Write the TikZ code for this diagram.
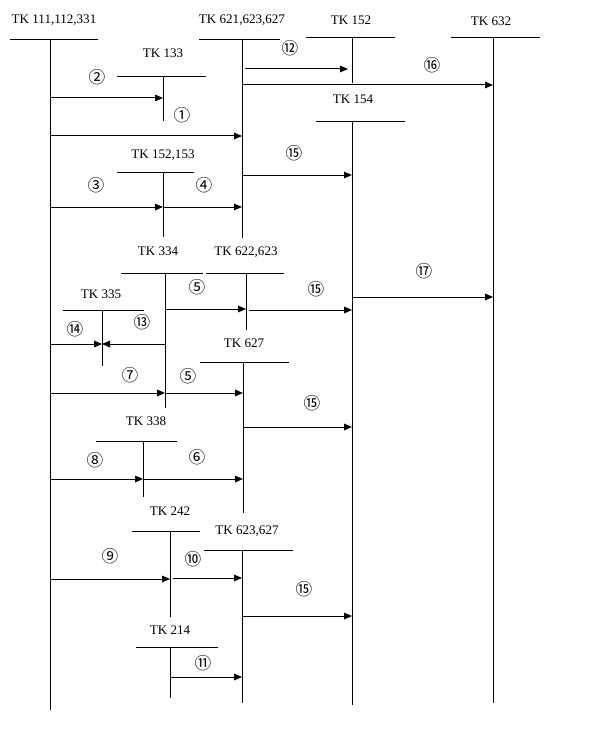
\documentclass[tikz,border=0pt]{standalone}
\usepackage{fontspec}
\setmainfont{Liberation Serif}
\newfontfamily\cjk{Noto Sans CJK SC}
\usetikzlibrary{arrows.meta}
\tikzset{
  acct/.style={font=\fontsize{9.8}{11}\selectfont, inner sep=0pt},
  num/.style={font=\cjk\fontsize{12.5}{13}\selectfont, inner sep=0pt},
  flow/.style={-{Triangle[length=6pt,width=5pt]}},
}
\begin{document}
\begin{tikzpicture}[x=0.75pt, y=-0.75pt, line width=0.75pt]
  \useasboundingbox (0,0) rectangle (591,738);

  % Accounts: title, bar, vertical line
  \node[acct] (t111) at (54,20) {TK 111,112,331};
  \draw (10,40) -- (98,40);
  \coordinate (k111) at (50,40);
  \draw (k111) -- (50,710);

  \node[acct] (t621) at (242,20) {TK 621,623,627};
  \draw (199,40) -- (280,40);
  \coordinate (k621) at (242,40);
  \draw (k621) -- (242,238);

  \node[acct] (t152) at (351,20) {TK 152};
  \draw (306,38) -- (395,38);
  \coordinate (k152) at (352,38);
  \draw (k152) -- (352,83);

  \node[acct] (t632) at (491,21) {TK 632};
  \draw (451,38) -- (540,38);
  \coordinate (k632) at (493,38);
  \draw (k632) -- (493,703);

  \node[acct] (t133) at (163,53) {TK 133};
  \draw (117,77) -- (206,77);
  \coordinate (k133) at (163,77);
  \draw (k133) -- (163,121);

  \node[acct] (t154) at (353,99) {TK 154};
  \draw (316,122) -- (405,122);
  \coordinate (k154) at (352,122);
  \draw (k154) -- (352,705);

  \node[acct] (t1523) at (163,155) {TK 152,153};
  \draw (117,172) -- (194,172);
  \coordinate (k1523) at (163,172);
  \draw (k1523) -- (163,237);

  \node[acct] (t334) at (158,251) {TK 334};
  \draw (121,273) -- (203,273);
  \coordinate (k334) at (165,273);
  \draw (k334) -- (165,408);

  \node[acct] (t622) at (246,252) {TK 622,623};
  \draw (206,273) -- (284,273);
  \coordinate (k622) at (246,273);
  \draw (k622) -- (246,330);

  \node[acct] (t335) at (101,294) {TK 335};
  \draw (63,310) -- (144,310);
  \coordinate (k335) at (102,310);
  \draw (k335) -- (102,366);

  \node[acct] (t627) at (244,343) {TK 627};
  \draw (200,362) -- (289,362);
  \coordinate (k627) at (243,362);
  \draw (k627) -- (243,513);

  \node[acct] (t338) at (146,421) {TK 338};
  \draw (96,441) -- (177,441);
  \coordinate (k338) at (143,441);
  \draw (k338) -- (143,497);

  \node[acct] (t242) at (170,511) {TK 242};
  \draw (132,531) -- (200,531);
  \coordinate (k242) at (170,531);
  \draw (k242) -- (170,617);

  \node[acct] (t6237) at (247,531) {TK 623,627};
  \draw (204,550) -- (293,550);
  \coordinate (k6237) at (242,550);
  \draw (k6237) -- (242,703);

  \node[acct] (t214) at (170,630) {TK 214};
  \draw (136,647) -- (218,647);
  \coordinate (k214) at (170,647);
  \draw (k214) -- (170,698);

  % Flows with their numbers
  \draw[flow] (k111 |- 0,98) -- (k133 |- 0,98);
  \node[num] (n2) at (97,77) {②};
  \draw[flow] (k111 |- 0,136) -- (k621 |- 0,136);
  \node[num] (n1) at (182,115) {①};
  \draw[flow] ([xshift=2pt]k621 |- 0,69) -- ([xshift=-3pt]k152 |- 0,69);
  \node[num] (n12) at (290,48) {⑫};
  \draw[flow] (k621 |- 0,85) -- (k632 |- 0,85);
  \node[num] (n16) at (432,65) {⑯};
  \draw[flow] (k621 |- 0,175) -- (k154 |- 0,175);
  \node[num] (n15a) at (294,153) {⑮};
  \draw[flow] (k111 |- 0,207) -- (k1523 |- 0,207);
  \node[num] (n3) at (96,185) {③};
  \draw[flow] (k1523 |- 0,207) -- (k621 |- 0,207);
  \node[num] (n4) at (204,185) {④};
  \draw[flow] (k154 |- 0,297) -- (k632 |- 0,297);
  \node[num] (n17) at (424,271) {⑰};
  \draw[flow] (k334 |- 0,309) -- (k622 |- 0,309);
  \node[num] (n5a) at (197,287) {⑤};
  \draw[flow] ([xshift=2pt]k622 |- 0,310) -- (k154 |- 0,310);
  \node[num] (n15b) at (316,289) {⑮};
  \draw[flow] (k334 |- 0,344) -- (k335 |- 0,344);
  \node[num] (n13) at (142,322) {⑬};
  \draw[flow] (k111 |- 0,344) -- (k335 |- 0,344);
  \node[num] (n14) at (75,329) {⑭};
  \draw[flow] (k111 |- 0,393) -- (k334 |- 0,393);
  \node[num] (n7) at (130,375) {⑦};
  \draw[flow] (k334 |- 0,393) -- (k627 |- 0,393);
  \node[num] (n5b) at (188,376) {⑤};
  \draw[flow] (k627 |- 0,427) -- (k154 |- 0,427);
  \node[num] (n15c) at (312,403) {⑮};
  \draw[flow] (k111 |- 0,479) -- (k338 |- 0,479);
  \node[num] (n8) at (95,460) {⑧};
  \draw[flow] (k338 |- 0,479) -- (k627 |- 0,479);
  \node[num] (n6) at (197,457) {⑥};
  \draw[flow] (k111 |- 0,579) -- (k242 |- 0,579);
  \node[num] (n9) at (110,556) {⑨};
  \draw[flow] ([xshift=2pt]k242 |- 0,578) -- (k6237 |- 0,578);
  \node[num] (n10) at (193,559) {⑩};
  \draw[flow] (k6237 |- 0,616) -- (k154 |- 0,616);
  \node[num] (n15d) at (304,589) {⑮};
  \draw[flow] (k214 |- 0,677) -- (k6237 |- 0,677);
  \node[num] (n11) at (203,663) {⑪};
\end{tikzpicture}
\end{document}
